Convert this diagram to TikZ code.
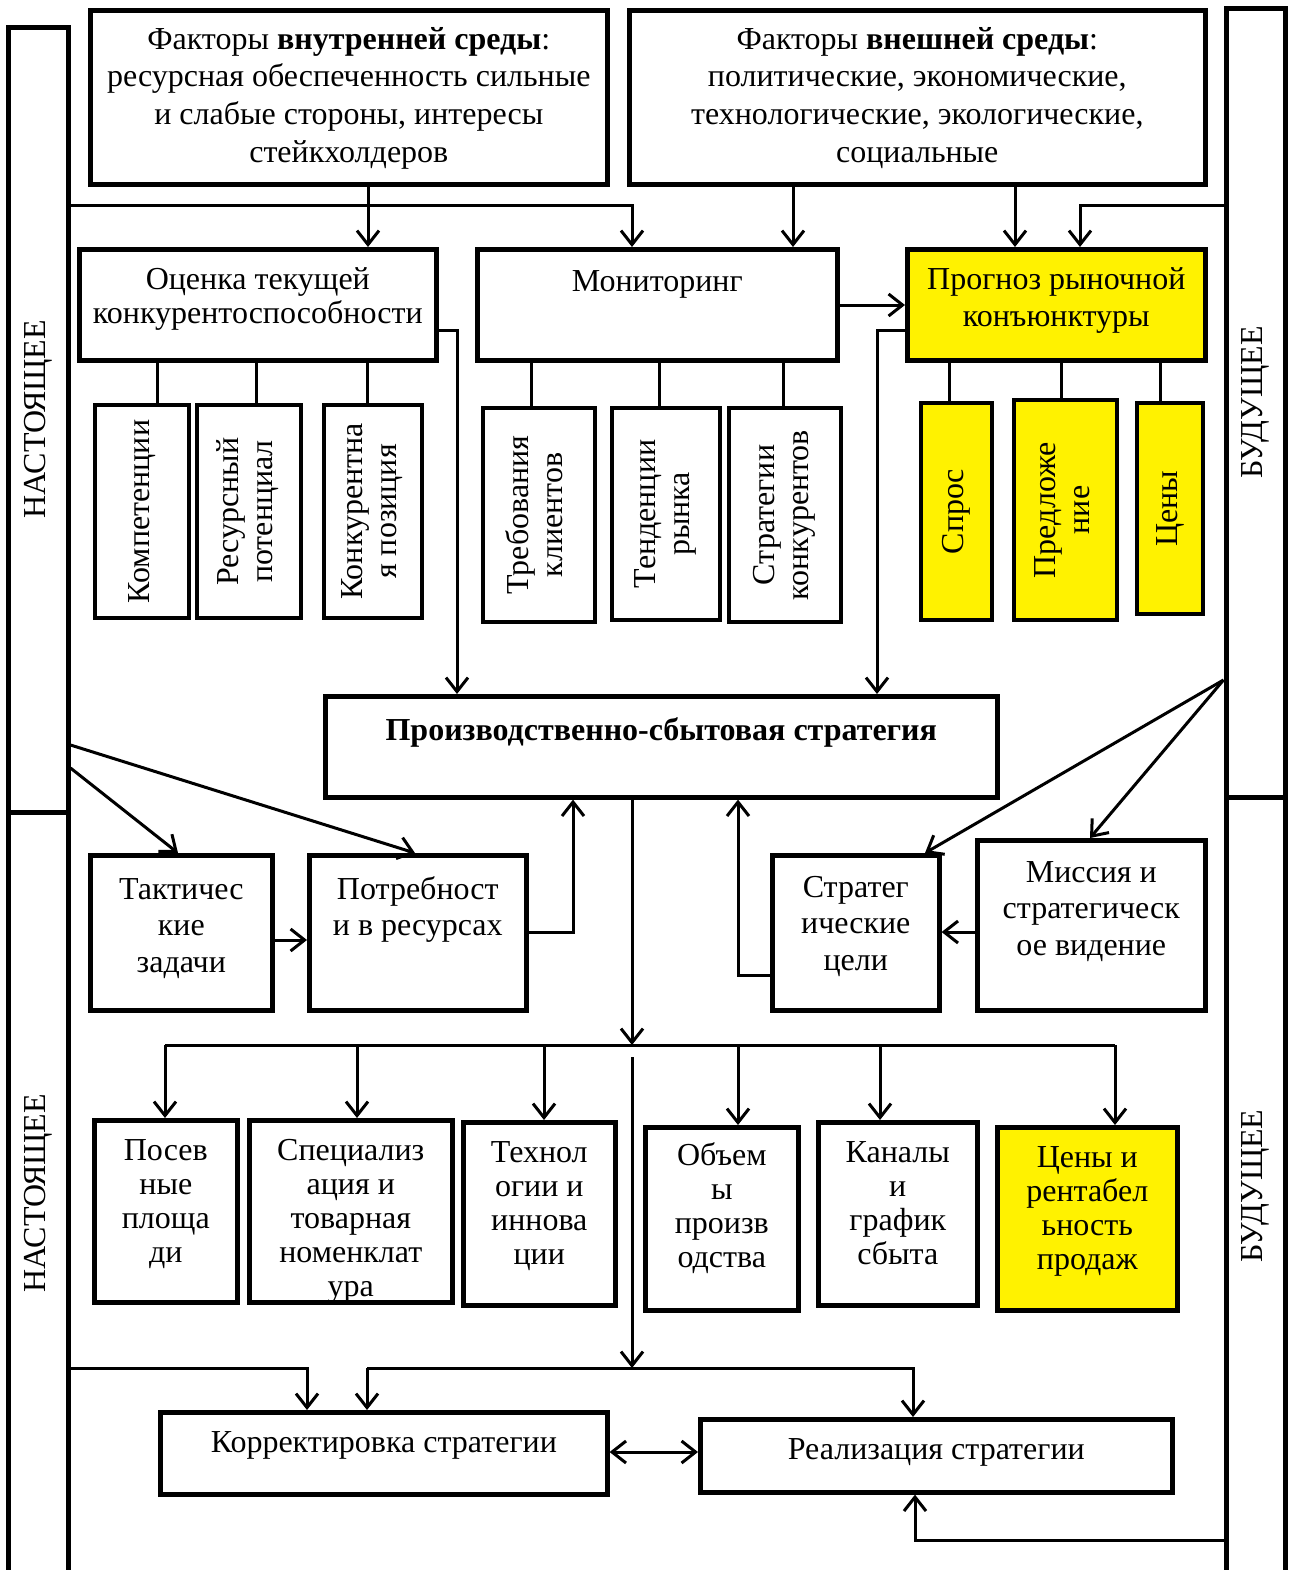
\documentclass[tikz,border=0pt]{standalone}
\usepackage{fontspec}
\setmainfont{Liberation Serif}
\usetikzlibrary{arrows.meta}

\begin{document}
\begin{tikzpicture}[
        x=0.5pt, y=-0.5pt,
        font=\fontsize{16}{17}\selectfont,
        >={Straight Barb[length=7pt,width=11pt]}, % offene Pfeilspitzen
        box/.style={draw, line width=2.3pt, inner xsep=1pt, inner ysep=0pt,
            align=center, anchor=north west},
        vbox/.style={draw, line width=2.3pt, inner sep=0pt},
        bar/.style={draw, line width=2.5pt, inner sep=0pt, minimum width=30pt,
            font=\fontsize{16}{18}\selectfont},
        line/.style={line width=1.5pt},
        yel/.style={fill=yellow}
        ]
    \useasboundingbox (0,0) rectangle (1295,1570);

    % Zeitachsen
    \node[bar, minimum height=392.5pt] (nowA) at (38,419.5) {\rotatebox{90}{НАСТОЯЩЕЕ}};
    \node[bar, minimum height=381.5pt] (nowB) at (38,1193.5) {\rotatebox{90}{НАСТОЯЩЕЕ}};
    \node[bar, minimum width=29.5pt, minimum height=394.5pt] (futA) at (1255.5,402.5) {\rotatebox{90}{БУДУЩЕЕ}};
    \node[bar, minimum width=29.5pt, minimum height=389pt] (futB) at (1255.5,1186) {\rotatebox{90}{БУДУЩЕЕ}};

    % Faktoren
    \node[box, minimum width=258.5pt, text height=75.9pt, text depth=11.1pt,
          font=\fontsize{16}{18.8}\selectfont] (fin) at (88,8)
          {Факторы \textbf{внутренней среды}:\\ресурсная обеспеченность сильные\\и слабые стороны, интересы\\стейкхолдеров};
    \node[box, minimum width=288pt, text height=75.9pt, text depth=11.1pt,
          font=\fontsize{16}{18.8}\selectfont] (fex) at (627,8)
          {Факторы \textbf{внешней среды}:\\политические, экономические,\\технологические, экологические,\\социальные};

    % Analyse
    \node[box, minimum width=178.5pt, text height=37pt, text depth=18.5pt] (ocen) at (77,247)
          {Оценка текущей\\конкурентоспособности};
    \node[box, minimum width=180pt, text height=21pt, text depth=34.5pt] (mon) at (475,247)
          {Мониторинг};
    \node[box, yel, minimum width=149pt, text height=38.5pt, text depth=17pt,
          font=\fontsize{16}{18.5}\selectfont] (prog) at (905,247)
          {Прогноз рыночной\\конъюнктуры};

    \node[vbox, minimum width=47pt, minimum height=106.5pt] (komp) at (142,511.5)
          {\rotatebox{90}{Компетенции}};
    \node[vbox, minimum width=52pt, minimum height=106.5pt] (resp) at (249,511.5)
          {\rotatebox{90}{\begin{tabular}{@{}c@{}}Ресурсный\\потенциал\end{tabular}}};
    \node[vbox, minimum width=49pt, minimum height=106.5pt] (konp) at (373,511.5)
          {\rotatebox{90}{\begin{tabular}{@{}c@{}}Конкурентна\\я позиция\end{tabular}}};
    \node[vbox, minimum width=56pt, minimum height=107pt] (treb) at (539,515)
          {\rotatebox{90}{\begin{tabular}{@{}c@{}}Требования\\клиентов\end{tabular}}};
    \node[vbox, minimum width=54pt, minimum height=106pt] (tend) at (666,514)
          {\rotatebox{90}{\begin{tabular}{@{}c@{}}Тенденции\\рынка\end{tabular}}};
    \node[vbox, minimum width=56pt, minimum height=107pt] (strk) at (785,515)
          {\rotatebox{90}{\begin{tabular}{@{}c@{}}Стратегии\\конкурентов\end{tabular}}};
    \node[vbox, yel, minimum width=35.5pt, minimum height=108.5pt] (spros) at (956.5,511.5)
          {\rotatebox{90}{Спрос}};
    \node[vbox, yel, minimum width=51.5pt, minimum height=110pt] (pred) at (1065.5,510)
          {\rotatebox{90}{\begin{tabular}{@{}c@{}}Предложе\\ние\end{tabular}}};
    \node[vbox, yel, minimum width=33pt, minimum height=105.5pt] (ceny) at (1170,508.5)
          {\rotatebox{90}{Цены}};

    % Strategie
    \node[box, minimum width=336pt, text height=22pt, text depth=28.5pt] (pss) at (323,694)
          {\textbf{Производственно-сбытовая стратегия}};
    \node[box, minimum width=91pt, text height=58.6pt, text depth=18.9pt,
          font=\fontsize{16}{18.3}\selectfont] (takt) at (88,853)
          {Тактичес\\кие\\задачи};
    \node[box, minimum width=108.5pt, text height=40.3pt, text depth=37.2pt,
          font=\fontsize{16}{18.3}\selectfont] (potr) at (307,853)
          {Потребност\\и в ресурсах};
    \node[box, minimum width=83.5pt, text height=57.6pt, text depth=19.9pt,
          font=\fontsize{16}{18.3}\selectfont] (strat) at (770,853)
          {Стратег\\ические\\цели};
    \node[box, minimum width=114pt, text height=57.6pt, text depth=27.4pt,
          font=\fontsize{16}{18.3}\selectfont] (miss) at (975,838)
          {Миссия и\\стратегическ\\ое видение};

    % Elemente der Strategie
    \node[box, minimum width=71.5pt, text height=71pt, text depth=20pt] (posev) at (92,1118)
          {Посев\\ные\\площа\\ди};
    \node[box, minimum width=101.5pt, text height=88pt, text depth=3pt] (spec) at (247,1118)
          {Специализ\\ация и\\товарная\\номенклат\\ура};
    \node[box, minimum width=76pt, text height=71pt, text depth=20.5pt] (tech) at (461,1120)
          {Технол\\огии и\\иннова\\ции};
    \node[box, minimum width=76.5pt, text height=70pt, text depth=21.5pt] (obem) at (643,1125)
          {Объем\\ы\\произв\\одства};
    \node[box, minimum width=79.5pt, text height=71pt, text depth=20.5pt] (kan) at (816,1120)
          {Каналы\\и\\график\\сбыта};
    \node[box, yel, minimum width=90pt, text height=71pt, text depth=20.5pt] (cena) at (995,1125)
          {Цены и\\рентабел\\ьность\\продаж};

    \node[box, minimum width=223.5pt, text height=20pt, text depth=21pt] (korr) at (158,1410)
          {Корректировка стратегии};
    \node[box, minimum width=236pt, text height=20pt, text depth=16.5pt] (real) at (698,1417)
          {Реализация стратегии};

    % Hilfspunkte
    \coordinate (busL) at (165,1045);
    \coordinate (busR) at (1115,1045);
    \coordinate (vtop) at (632,1057);
    \coordinate (rb)   at (367,1368);

    % Verbindungen oben
    \draw[line,->] (nowA.east |- 0,205) -| (mon.north -| 632,0);
    \draw[line,->] (fin.south -| 368,0) -- (ocen.north -| 368,0);
    \draw[line,->] (fex.south -| 793,0) -- (mon.north -| 793,0);
    \draw[line,->] (fex.south -| 1015,0) -- (prog.north -| 1015,0);
    \draw[line,->] (futA.west |- 0,205) -| (prog.north -| 1080,0);
    \draw[line,->] (mon.east |- 0,305) -- (prog.west |- 0,305);
    \draw[line,->] (ocen.east |- 0,330) -| (pss.north -| 457,0);
    \draw[line,->] (prog.west |- 0,330) -| (pss.north -| 877,0);

    \foreach \n/\x in {komp/157,resp/256,konp/367}
        \draw[line] (ocen.south -| \x,0) -- (\n.north -| \x,0);
    \foreach \n/\x in {treb/531,tend/659,strk/783}
        \draw[line] (mon.south -| \x,0) -- (\n.north -| \x,0);
    \foreach \n/\x in {spros/949,pred/1061,ceny/1160}
        \draw[line] (prog.south -| \x,0) -- (\n.north -| \x,0);

    % Verbindungen Mitte
    \draw[line,->] (nowA.east |- 0,745) -- (potr.north -| 415,0);
    \draw[line,->] (nowA.east |- 0,768) -- (takt.north -| 178,0);
    \draw[line,->] (futA.west |- 0,680) -- (strat.north -| 925,0);
    \draw[line,->] (futA.west |- 0,680) -- (miss.north -| 1090,0);
    \draw[line,->] (takt.east |- 0,940) -- (potr.west |- 0,940);
    \draw[line,->] (potr.east |- 0,932) -| (pss.south -| 573,0);
    \draw[line,->] (miss.west |- 0,932) -- (strat.east |- 0,932);
    \draw[line,->] (strat.west |- 0,975) -| (pss.south -| 738,0);

    % Verbindungen unten
    \draw[line,->] (pss.south -| 632,0) -- (busL -| 632,0);
    \draw[line] (busL) -- (busR);
    \foreach \n/\x in {posev/165,spec/357,tech/544,obem/738,kan/880,cena/1115}
        \draw[line,->] (busL -| \x,0) -- (\n.north -| \x,0);
    \draw[line,->] (vtop) -- (rb -| 632,0);
    \draw[line,->] (nowB.east |- rb) -| (korr.north -| 307,0);
    \draw[line,->] (rb) -- (korr.north -| rb);
    \draw[line,->] (rb) -| (real.north -| 913,0);
    \draw[line,<->] (korr.east |- 0,1452) -- (real.west |- 0,1452);
    \draw[line,->] (futB.west |- 0,1540) -| (real.south -| 915,0);

\end{tikzpicture}
\end{document}
